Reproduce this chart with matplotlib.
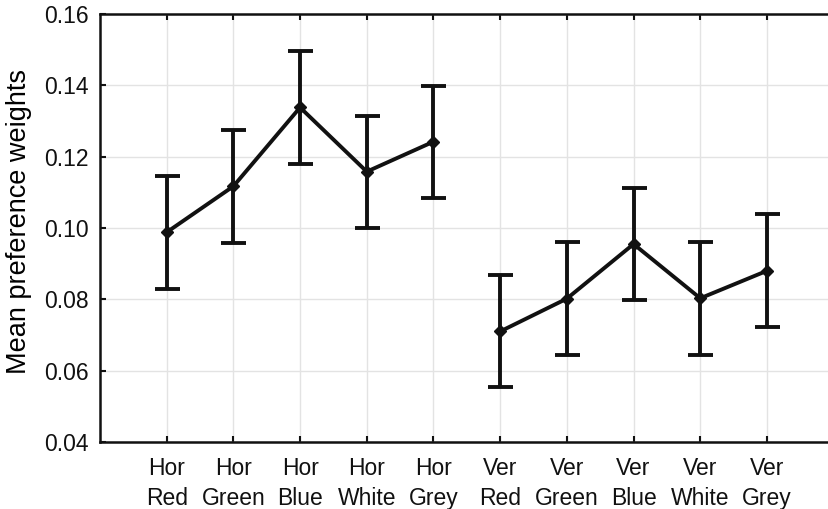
import matplotlib
matplotlib.use('Agg')
import matplotlib.pyplot as plt

plt.rcParams['font.family'] = ['Liberation Sans', 'DejaVu Sans']

# categorias y valores
hor_labels = ['Hor\nRed', 'Hor\nGreen', 'Hor\nBlue', 'Hor\nWhite', 'Hor\nGrey']
ver_labels = ['Ver\nRed', 'Ver\nGreen', 'Ver\nBlue', 'Ver\nWhite', 'Ver\nGrey']
hor_mean = [0.0988, 0.1117, 0.1338, 0.1158, 0.1242]
hor_err = [0.0158, 0.0158, 0.0158, 0.0157, 0.0157]
ver_mean = [0.0710, 0.0802, 0.0955, 0.0803, 0.0880]
ver_err = [0.0157, 0.0158, 0.0158, 0.0158, 0.0158]

fig = plt.figure(figsize=(8.29, 5.09), dpi=100)
ax = fig.add_axes([0.1206, 0.1316, 0.8794, 0.8409])

x_hor = list(range(1, 6))
x_ver = list(range(6, 11))
for xs, ms, es in [(x_hor, hor_mean, hor_err), (x_ver, ver_mean, ver_err)]:
    ax.errorbar(xs, ms, yerr=es, color='#111111', lw=2.8, marker='D', markersize=6,
                capsize=9, capthick=2.8, elinewidth=2.8, zorder=3)

ax.set_xlim(0, 10.93)
ax.set_ylim(0.04, 0.16)
ax.set_yticks([0.04, 0.06, 0.08, 0.10, 0.12, 0.14, 0.16])
ax.set_yticklabels(['0.04', '0.06', '0.08', '0.10', '0.12', '0.14', '0.16'])
ax.set_xticks(x_hor + x_ver)
ax.set_xticklabels(hor_labels + ver_labels, linespacing=1.35)
ax.grid(True, color='#e3e3e3', lw=1)
ax.set_axisbelow(True)
ax.tick_params(direction='in', length=4, width=1.5, labelsize=16.5, colors='#111111',
               top=True, pad=11)
ax.tick_params(axis='y', pad=8)
ax.spines['right'].set_visible(False)
for s in ['left', 'top', 'bottom']:
    ax.spines[s].set_linewidth(1.8)
    ax.spines[s].set_color('#111111')
ax.set_ylabel('Mean preference weights', fontsize=19.5)
ax.yaxis.set_label_coords(-0.093, 0.516)

fig.savefig('out.png', dpi=100)
